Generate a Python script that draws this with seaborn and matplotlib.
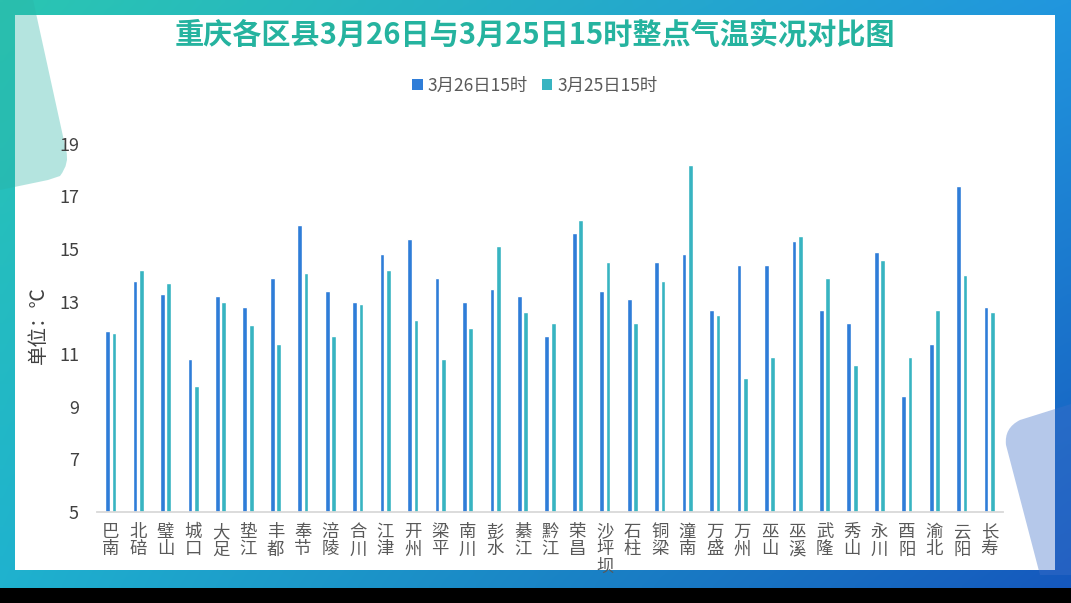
import numpy as np
import pandas as pd
import matplotlib
matplotlib.use("Agg")
import matplotlib.pyplot as plt
from matplotlib.patches import Rectangle, Patch
from matplotlib.path import Path
from matplotlib.patches import PathPatch
import seaborn as sns

# ---------------- data ----------------
districts = ['巴南', '北碚', '璧山', '城口', '大足', '垫江', '丰都', '奉节', '涪陵', '合川',
             '江津', '开州', '梁平', '南川', '彭水', '綦江', '黔江', '荣昌', '沙坪坝', '石柱',
             '铜梁', '潼南', '万盛', '万州', '巫山', '巫溪', '武隆', '秀山', '永川', '酉阳',
             '渝北', '云阳', '长寿']
temp_0326 = [11.9, 13.8, 13.3, 10.8, 13.2, 12.8, 13.9, 15.9, 13.4, 13.0,
             14.8, 15.4, 13.9, 13.0, 13.5, 13.2, 11.7, 15.6, 13.4, 13.1,
             14.5, 14.8, 12.7, 14.4, 14.4, 15.3, 12.7, 12.2, 14.9, 9.4,
             11.4, 17.4, 12.8]
temp_0325 = [11.8, 14.2, 13.7, 9.8, 13.0, 12.1, 11.4, 14.1, 11.7, 12.9,
             14.2, 12.3, 10.8, 12.0, 15.1, 12.6, 12.2, 16.1, 14.5, 12.2,
             13.8, 18.2, 12.5, 10.1, 10.9, 15.5, 13.9, 10.6, 14.6, 10.9,
             12.7, 14.0, 12.6]
series_names = ['3月26日15时', '3月25日15时']
y_ticks = [5, 7, 9, 11, 13, 15, 17, 19]
title_text = '重庆各区县3月26日与3月25日15时整点气温实况对比图'
ylabel_text = '单位：℃'

df = pd.DataFrame({
    '区县': districts * 2,
    '气温': temp_0326 + temp_0325,
    '时间': [series_names[0]] * len(districts) + [series_names[1]] * len(districts),
})

# ---------------- style ----------------
sns.set_style('white')
plt.rcParams['font.family'] = ['Noto Sans CJK SC', 'DejaVu Sans']

W, H = 1071, 603
fig = plt.figure(figsize=(W / 100, H / 100), dpi=100)
fig.patch.set_facecolor('black')

# background decoration axes (pixel coordinates)
bg = fig.add_axes([0, 0, 1, 1], zorder=0)
bg.set_xlim(0, W)
bg.set_ylim(H, 0)
bg.axis('off')

def hex2rgb(h):
    h = h.lstrip('#')
    return np.array([int(h[i:i + 2], 16) / 255 for i in (0, 2, 4)])

tl, tr, bl, br = hex2rgb('#2ac6b2'), hex2rgb('#2196de'), hex2rgb('#1fb2cf'), hex2rgb('#1558bd')
nx, ny = 200, 120
u = np.linspace(0, 1, nx)[None, :, None]
v = np.linspace(0, 1, ny)[:, None, None]
grad = (tl * (1 - u) * (1 - v) + tr * u * (1 - v) + bl * (1 - u) * v + br * u * v)
bg.imshow(grad, extent=(0, W, 588, 0), aspect='auto', interpolation='bilinear', zorder=1)
bg.add_patch(Rectangle((15, 15), 1040, 555, facecolor='white', edgecolor='none', zorder=2))

# top-left translucent shape
verts = [(0, -5), (32, -5), (66, 150), (70, 163), (60, 176), (48, 180), (0, 190), (0, -5)]
codes = [Path.MOVETO, Path.LINETO, Path.LINETO, Path.CURVE3, Path.CURVE3, Path.LINETO,
         Path.LINETO, Path.CLOSEPOLY]
bg.add_patch(PathPatch(Path(verts, codes), facecolor='#2ab3a5', alpha=0.35,
                       edgecolor='none', zorder=3))
# bottom-right translucent shape
verts2 = [(1040, 575), (1006, 445), (1004, 428), (1020, 420), (1071, 404),
          (1071, 575), (1040, 575)]
codes2 = [Path.MOVETO, Path.LINETO, Path.CURVE3, Path.CURVE3, Path.LINETO,
          Path.LINETO, Path.CLOSEPOLY]
bg.add_patch(PathPatch(Path(verts2, codes2), facecolor='#3d6fc9', alpha=0.38,
                       edgecolor='none', zorder=3))

# ---------------- main chart ----------------
left, right = 97, 1003
bottom_px, top_px = 512, 136
ax = fig.add_axes([left / W, (H - bottom_px) / H, (right - left) / W, (bottom_px - top_px) / H],
                  zorder=2)
ax.patch.set_alpha(0)

colors = ['#2f7dd8', '#38b4c1']
sns.barplot(data=df, x='区县', y='气温', hue='时间', order=districts, hue_order=series_names,
            palette=colors, saturation=1, width=0.46, gap=0.25, legend=False, ax=ax,
            errorbar=None)

ax.set_ylim(5, 19.3)
ax.set_xlim(-0.5, len(districts) - 0.5)
ax.set_yticks(y_ticks)
ax.set_yticklabels([str(t) for t in y_ticks], fontsize=13, color='#404040')
ax.set_xticks(range(len(districts)))
ax.set_xticklabels(['\n'.join(d) for d in districts], fontsize=12.5, color='#595959',
                   linespacing=0.95, va='top')
ax.tick_params(axis='x', length=0, pad=8)
ax.tick_params(axis='y', length=0, pad=13)
ax.set_xlabel('')
ax.set_ylabel('')
for s in ['top', 'right', 'left']:
    ax.spines[s].set_visible(False)
ax.spines['bottom'].set_color('#d9d9d9')
ax.spines['bottom'].set_linewidth(1.3)
ax.grid(False)

fig.text(38 / W, (H - 325) / H, ylabel_text, rotation=90, ha='center', va='center',
         fontsize=14, color='#404040')

fig.text(535 / W, (H - 35) / H, title_text, ha='center', va='center', fontsize=21,
         fontweight='bold', color='#25b39f')

handles = [Patch(facecolor=c, edgecolor='none') for c in colors]
fig.legend(handles, series_names, loc='center', bbox_to_anchor=(535 / W, (H - 86) / H),
           ncol=2, frameon=False, fontsize=12.5, labelcolor='#595959',
           handlelength=0.6, handleheight=0.6, handletextpad=0.3, columnspacing=0.8)

fig.savefig('out.png', dpi=100, facecolor=fig.get_facecolor())
